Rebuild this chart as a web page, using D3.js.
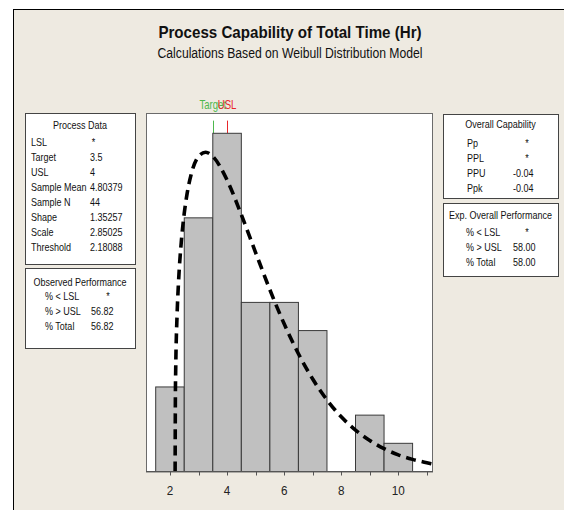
<!DOCTYPE html>
<html>
<head>
<meta charset="utf-8">
<script src="https://cdn.jsdelivr.net/npm/d3@7"></script>
<style>
  body { margin: 0; background: #fff; }
  svg text { font-family: "Liberation Sans", Arial, sans-serif; }
</style>
</head>
<body>
<div id="chart"></div>
<script>
// histogram data (bins of width 1)
var binMids = [2, 3, 4, 5, 6, 7, 8, 9, 10];
var counts = [3, 9, 12, 6, 6, 5, 0, 2, 1];

// fitted weibull curve (count scale)
var fitX = [2.18, 2.19, 2.2, 2.25, 2.3, 2.4, 2.5, 2.6, 2.75, 3, 3.25, 3.5, 4, 4.5, 5, 5.5, 6, 6.5, 7, 7.5, 8, 8.5, 9, 9.5, 10, 10.5, 11, 11.18];
var fitY = [0, 2.76, 3.57, 5.59, 6.73, 8.19, 9.16, 9.86, 10.57, 11.18, 11.33, 11.18, 10.34, 9.11, 7.77, 6.45, 5.24, 4.18, 3.28, 2.54, 1.94, 1.47, 1.10, 0.81, 0.59, 0.43, 0.31, 0.27];

var xTicks = [2, 4, 6, 8, 10];
var xMinorTicks = [3, 5, 7, 9, 11];

var specNames = ["Target", "USL"];
var specValues = [3.5, 4];
var specColors = ["#4db84d", "#e8262a"];

var processLabels = ["LSL", "Target", "USL", "Sample Mean", "Sample N", "Shape", "Scale", "Threshold"];
var processValues = ["*", "3.5", "4", "4.80379", "44", "1.35257", "2.85025", "2.18088"];

var observedLabels = ["% < LSL", "% > USL", "% Total"];
var observedValues = ["*", "56.82", "56.82"];

var capabilityLabels = ["Pp", "PPL", "PPU", "Ppk"];
var capabilityValues = ["*", "*", "-0.04", "-0.04"];

var expectedLabels = ["% < LSL", "% > USL", "% Total"];
var expectedValues = ["*", "58.00", "58.00"];

var width = 564, height = 510;
var plot = { left: 146, right: 432, top: 113, bottom: 471.5 };

var svg = d3.select("#chart").append("svg")
    .attr("width", width)
    .attr("height", height);

// narrow text (the original uses a condensed font), squeeze horizontally
function txt(parent, tx, ty, str, size, sx) {
  return parent.append("text")
      .attr("transform", "translate(" + tx + "," + ty + ") scale(" + sx + ",1)")
      .attr("font-size", size)
      .attr("fill", "#111")
      .text(str);
}

// beige frame
svg.append("rect")
    .attr("x", 13.5).attr("y", 9.5)
    .attr("width", width).attr("height", height)
    .attr("fill", "#eeeae1")
    .attr("stroke", "#000");

txt(svg, 290, 38, "Process Capability of Total Time (Hr)", 17, 0.89)
    .attr("text-anchor", "middle")
    .attr("font-weight", "bold");

txt(svg, 290, 58, "Calculations Based on Weibull Distribution Model", 14, 0.87)
    .attr("text-anchor", "middle");

var x = d3.scaleLinear().domain([1.16, 11.18]).range([plot.left, plot.right]);
var y = d3.scaleLinear().domain([0, 12.72]).range([plot.bottom, plot.top]);

// plot area
svg.append("rect")
    .attr("x", plot.left + 0.5).attr("y", plot.top + 0.5)
    .attr("width", plot.right - plot.left).attr("height", plot.bottom - plot.top)
    .attr("fill", "#fff")
    .attr("stroke", "#6b6b6b");

// spec lines and labels
var spec = svg.append("g");
specValues.forEach(function (v, i) {
  spec.append("line")
      .attr("x1", Math.round(x(v)) + 0.5).attr("x2", Math.round(x(v)) + 0.5)
      .attr("y1", y(12.45)).attr("y2", y(12))
      .attr("stroke", specColors[i]);
  txt(spec, x(v), 109, specNames[i], 12, 0.8)
      .attr("text-anchor", "middle")
      .attr("fill", specColors[i]);
});

// bars
svg.append("g").selectAll("rect")
    .data(binMids.filter(function (d, i) { return counts[i] > 0; }))
    .enter().append("rect")
    .attr("x", function (d) { return x(d - 0.5); })
    .attr("y", function (d) { return y(counts[binMids.indexOf(d)]); })
    .attr("width", function (d) { return x(d + 0.5) - x(d - 0.5); })
    .attr("height", function (d) { return y(0) - y(counts[binMids.indexOf(d)]); })
    .attr("fill", "#c0c0c0")
    .attr("stroke", "#3a3a3a")
    .attr("stroke-width", 1);

// fitted curve
var line = d3.line()
    .x(function (d) { return x(d); })
    .y(function (d, i) { return y(fitY[i]); })
    .curve(d3.curveMonotoneX);

svg.append("path")
    .attr("d", line(fitX))
    .attr("fill", "none")
    .attr("stroke", "#000")
    .attr("stroke-width", 3.6)
    .attr("stroke-dasharray", "10,6");

// x axis
var axis = svg.append("g")
    .attr("transform", "translate(0," + plot.bottom + ")");
axis.append("line")
    .attr("x1", plot.left).attr("x2", plot.right + 1)
    .attr("stroke", "#555");
axis.selectAll(".tick")
    .data(xTicks.concat(xMinorTicks))
    .enter().append("line")
    .attr("x1", function (d) { return Math.round(x(d)) + 0.5; })
    .attr("x2", function (d) { return Math.round(x(d)) + 0.5; })
    .attr("y1", 0).attr("y2", 4)
    .attr("stroke", "#555");
xTicks.forEach(function (d) {
  txt(axis, x(d), 23, d, 13, 0.9)
      .attr("text-anchor", "middle")
      .attr("fill", "#222");
});

// info boxes
function drawBox(bx, by, bw, bh, title, titleY, rowY, labels, values, labelX, valueX) {
  var g = svg.append("g");
  g.append("rect")
      .attr("x", bx + 0.5).attr("y", by + 0.5)
      .attr("width", bw).attr("height", bh)
      .attr("fill", "#fff")
      .attr("stroke", "#444");
  txt(g, bx + bw / 2, by + titleY, title, 11, 0.82)
      .attr("text-anchor", "middle");
  labels.forEach(function (l, i) {
    txt(g, labelX, by + rowY + i * 15, l, 11, 0.82);
    txt(g, values[i] == "*" ? valueX[1] : valueX[0], by + rowY + i * 15, values[i], 11, 0.82)
        .attr("text-anchor", values[i] == "*" ? "middle" : "start");
  });
}

drawBox(25, 113, 110, 151, "Process Data", 16, 32.5, processLabels, processValues, 31, [90, 93.5]);
drawBox(25, 268, 110, 80, "Observed Performance", 17.5, 32, observedLabels, observedValues, 45, [91, 108]);
drawBox(443, 114, 115, 84, "Overall Capability", 14, 32.5, capabilityLabels, capabilityValues, 467, [513, 527]);
drawBox(443, 203, 115, 73, "Exp. Overall Performance", 16, 33, expectedLabels, expectedValues, 466, [513, 527]);
</script>
</body>
</html>
